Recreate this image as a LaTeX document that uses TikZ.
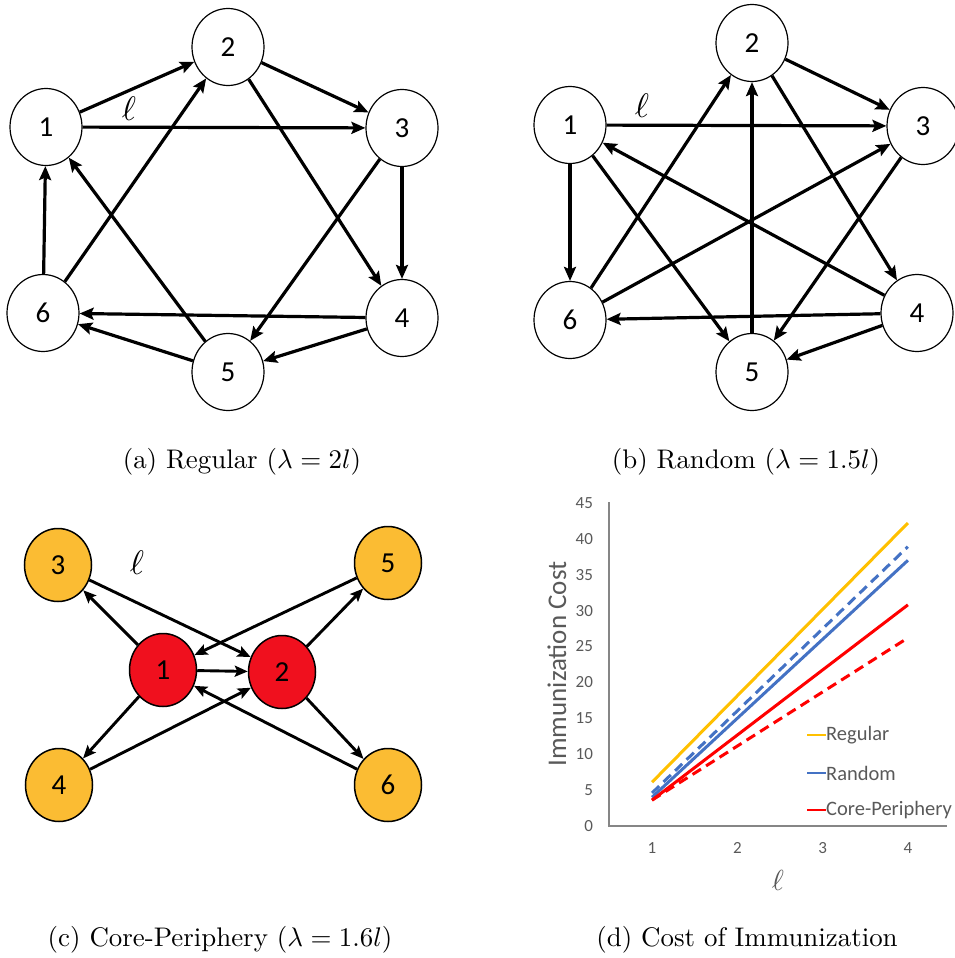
\documentclass[tikz,border=0pt]{standalone}
\usepackage{fontspec}
\usepackage{graphicx}
\usetikzlibrary{arrows.meta,shapes.geometric}
\newfontfamily\carl{Carlito}
\definecolor{nodeyel}{RGB}{251,188,51}
\definecolor{nodered}{RGB}{240,16,30}
\definecolor{regc}{RGB}{255,192,0}
\definecolor{ranc}{RGB}{68,114,196}
\definecolor{cpc}{RGB}{255,0,0}
\definecolor{axisgray}{RGB}{134,134,134}
\definecolor{txtgray}{RGB}{89,89,89}
\begin{document}
\begin{tikzpicture}[x=1pt,y=-1pt,
  vtx/.style={ellipse,draw=black,line width=1.2pt,fill=white,minimum width=72pt,minimum height=77pt,inner sep=0pt,font=\carl\fontsize{29}{29}\selectfont},
  cvtx/.style={ellipse,draw=black,line width=1.5pt,minimum width=67pt,minimum height=73pt,inner sep=0pt,font=\carl\fontsize{29}{29}\selectfont},
  periph/.style={cvtx,fill=nodeyel},
  core/.style={cvtx,fill=nodered},
  edge/.style={line width=3.2pt,-{Stealth[length=14pt,width=12pt,inset=2.5pt]}},
  cedge/.style={line width=2.9pt,-{Stealth[length=13pt,width=11pt,inset=2.5pt]}},
  ell/.style={inner sep=0pt},
  caption/.style={inner sep=0pt},
  tick/.style={inner sep=0pt,text=txtgray,font=\carl\fontsize{17}{17}\selectfont},
  legtext/.style={inner sep=0pt,anchor=west,text=txtgray,font=\carl\fontsize{20.5}{20.5}\selectfont},
  dataline/.style={line width=3pt},
  dashline/.style={line width=3pt,dash pattern=on 10pt off 6pt}
]
\useasboundingbox (0,0) rectangle (955,958);

% ---------- (a) Regular ----------
\node[vtx] (a1) at (46,127) {1};
\node[vtx] (a2) at (228,47) {2};
\node[vtx] (a3) at (402,128) {3};
\node[vtx] (a4) at (402,318) {4};
\node[vtx] (a5) at (228,372) {5};
\node[vtx] (a6) at (43,313) {6};
\draw[edge] (a1) -- (a2);
\draw[edge] (a1) -- (a3);
\draw[edge] (a2) -- (a3);
\draw[edge] (a2) -- (a4);
\draw[edge] (a3) -- (a4);
\draw[edge] (a3) -- (a5);
\draw[edge] (a4) -- (a5);
\draw[edge] (a4) -- (a6);
\draw[edge] (a5) -- (a6);
\draw[edge] (a5) -- (a1);
\draw[edge] (a6) -- (a1);
\draw[edge] (a6) -- (a2);
\node[ell] (la) at (129,109) {\scalebox{3.4}{$\ell$}};
\node[caption] (capa) at (242,462) {\scalebox{2.69}{(a) Regular ($\lambda = 2l$)}};

% ---------- (b) Random ----------
\node[vtx] (b1) at (570,125) {1};
\node[vtx] (b2) at (752,43) {2};
\node[vtx] (b3) at (923,126) {3};
\node[vtx] (b4) at (917,313) {4};
\node[vtx] (b5) at (752,372) {5};
\node[vtx] (b6) at (570,320) {6};
\draw[edge] (b1) -- (b3);
\draw[edge] (b1) -- (b6);
\draw[edge] (b1) -- (b5);
\draw[edge] (b2) -- (b3);
\draw[edge] (b2) -- (b4);
\draw[edge] (b5) -- (b2);
\draw[edge] (b6) -- (b2);
\draw[edge] (b6) -- (b3);
\draw[edge] (b4) -- (b1);
\draw[edge] (b3) -- (b5);
\draw[edge] (b4) -- (b6);
\draw[edge] (b4) -- (b5);
\node[ell] (lb) at (642,106) {\scalebox{3.4}{$\ell$}};
\node[caption] (capb) at (746,462) {\scalebox{2.69}{(b) Random ($\lambda = 1.5l$)}};

% ---------- (c) Core-Periphery ----------
\node[periph] (c3) at (58,565) {3};
\node[periph] (c5) at (388,563) {5};
\node[core] (c1) at (163,670) {1};
\node[core] (c2) at (282,672) {2};
\node[periph] (c4) at (59,785) {4};
\node[periph] (c6) at (388,785) {6};
\draw[cedge] (c1) -- (c3);
\draw[cedge] (c3) -- (c2);
\draw[cedge] (c5) -- (c1);
\draw[cedge] (c2) -- (c5);
\draw[cedge] (c1) -- (c2);
\draw[cedge] (c1) -- (c4);
\draw[cedge] (c4) -- (c2);
\draw[cedge] (c6) -- (c1);
\draw[cedge] (c2) -- (c6);
\node[ell] (lc) at (137,563) {\scalebox{3.4}{$\ell$}};
\node[caption] (capc) at (220,940) {\scalebox{2.69}{(c) Core-Periphery ($\lambda = 1.6l$)}};

% ---------- (d) Cost of Immunization ----------
\begin{scope}[shift={(652pt,-826pt)},x=85.3pt,y=7.18pt]
  \draw[axisgray,line width=1.8pt] (-0.5,45.1) -- (-0.5,0) -- (3.46,0);
  \foreach \v in {0,5,...,45} \node[tick,anchor=east] (yt\v) at (-0.69,\v) {\v};
  \foreach \v in {1,2,3,4} \node[tick] (xt\v) at (\v-1,-3.06) {\v};
  \draw[regc,dataline] (0,6.1) -- (3,42.2);
  \draw[ranc,dashline] (0,4.6) -- (3,38.9);
  \draw[ranc,dataline] (0,4.0) -- (3,37.0);
  \draw[cpc,dataline] (0,3.6) -- (3,30.8);
  \draw[cpc,dashline] (0,3.6) -- (3,26.2);
\end{scope}
\node[inner sep=0pt,rotate=90,text=txtgray,font=\carl\fontsize{27}{27}\selectfont] (ytitle) at (557,664) {Immunization Cost};
\node[ell,text=txtgray] (xtitle) at (778,880) {\scalebox{2.9}{$\ell$}};
\coordinate (lr1) at (807,735); \coordinate (lr2) at (826,735);
\coordinate (lb1) at (807,773); \coordinate (lb2) at (826,773);
\coordinate (lc1) at (807,810); \coordinate (lc2) at (826,810);
\draw[regc,line width=2.6pt] (lr1) -- (lr2);
\draw[ranc,line width=2.6pt] (lb1) -- (lb2);
\draw[cpc,line width=2.6pt] (lc1) -- (lc2);
\node[legtext] (legr) at (lr2) {Regular};
\node[legtext] (legb) at (lb2) {Random};
\node[legtext] (legc) at (lc2) {Core-Periphery};
\node[caption] (capd) at (747,940) {\scalebox{2.69}{(d) Cost of Immunization}};
\end{tikzpicture}
\end{document}
